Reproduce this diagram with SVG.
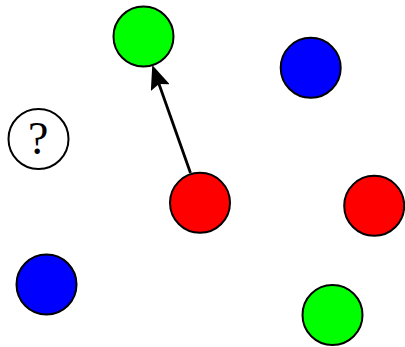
<svg xmlns="http://www.w3.org/2000/svg" width="405" height="347" viewBox="0 0 405 347">
<style>
.n{stroke:#000;stroke-width:2}
.r{fill:#ff0000}.g{fill:#00ff00}.b{fill:#0000ff}.w{fill:#fff}
.e{stroke:#000;stroke-width:2.8;fill:none}
.q{font-family:"Liberation Serif","DejaVu Serif",serif;font-size:46px;fill:#000}
</style>
<defs>
<marker id="ah" markerUnits="userSpaceOnUse" markerWidth="24" markerHeight="20" refX="20" refY="10" orient="auto">
<path d="M0,0 L24,10 L0,20 L4,10 z" fill="#000"/>
</marker>
</defs>
<rect width="405" height="347" fill="#fff"/>
<g id="connectors">
<line class="e" x1="190.5" y1="173" x2="153.6" y2="68.8" marker-end="url(#ah)"/>
</g>
<g id="green1"><circle class="n g" cx="143.5" cy="36.5" r="30"/></g>
<g id="blue1"><circle class="n b" cx="310.7" cy="67.8" r="30"/></g>
<g id="unknown"><circle class="n w" cx="38.5" cy="139" r="30"/><text class="q" x="38.3" y="154.3" text-anchor="middle">?</text></g>
<g id="red1"><circle class="n r" cx="200" cy="202.8" r="30"/></g>
<g id="red2"><circle class="n r" cx="374.2" cy="205.8" r="30"/></g>
<g id="blue2"><circle class="n b" cx="46.5" cy="284.5" r="30"/></g>
<g id="green2"><circle class="n g" cx="332.5" cy="315" r="30"/></g>
</svg>
